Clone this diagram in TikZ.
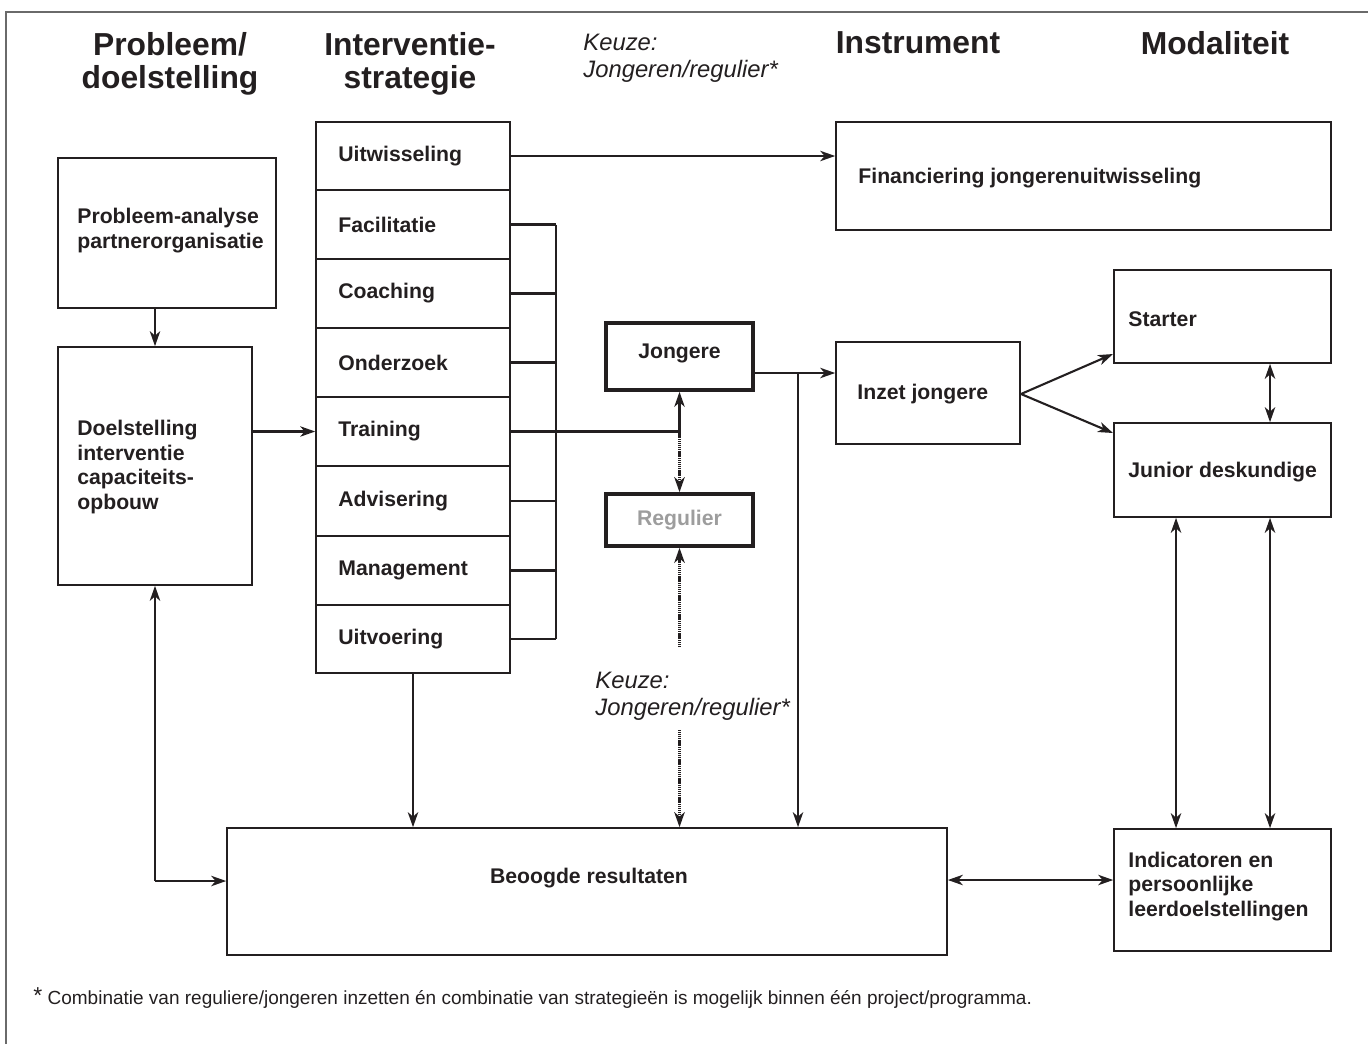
\documentclass[tikz,border=0pt]{standalone}
\usepackage{fontspec}
\setmainfont{Liberation Sans}
\usetikzlibrary{arrows.meta,fit}
\definecolor{ink}{HTML}{231F20}
\definecolor{greytxt}{HTML}{9D9D9D}
\definecolor{framegrey}{HTML}{6A6A6A}
\begin{document}
\begin{tikzpicture}[x=0.5pt,y=-0.5pt,
  box/.style={draw=ink, line width=0.8pt, inner sep=0pt},
  thickbox/.style={draw=ink, line width=1.8pt, inner sep=0pt},
  lbl/.style={anchor=west, inner sep=0pt, font=\fontsize{10.6}{12.3}\selectfont\bfseries, text=ink, align=left},
  clbl/.style={inner sep=0pt, font=\fontsize{10.6}{12.3}\selectfont\bfseries, text=ink, align=center},
  head/.style={font=\fontsize{15.9}{16.5}\selectfont\bfseries, text=ink, align=center, inner sep=0pt},
  keuze/.style={font=\fontsize{11.9}{13.5}\selectfont\itshape, text=ink, align=left, inner sep=0pt, anchor=west},
  tip/.tip={Stealth[length=7.5pt,width=5.2pt,inset=2.2pt]},
  conn/.style={draw=ink, line width=1.05pt},
  arr/.style={conn, -tip},
  darr/.style={conn, tip-tip},
  dots/.style={draw=ink, line width=1.6pt, dash pattern=on 0.6pt off 0.35pt},
]
\useasboundingbox (0,0) rectangle (1368,1044);
\draw[framegrey, line width=0.9pt] (6,1044) -- (6,12) -- (1368,12);

% headings
\node[head] (h1) at (170,63.5) {Probleem/\\doelstelling};
\node[head] (h2) at (410,63.5) {Interventie-\\strategie};
\node[head] (h3) at (918,43) {Instrument};
\node[head] (h4) at (1215,43) {Modaliteit};
\node[keuze] (k0) at (583,58.5) {Keuze:\\Jongeren/regulier*};

% left column
\node[box, fit={(58,158) (276,308)}] (prob) {};
\node[lbl] (probt) at (77,230.5) {Probleem-analyse\\partnerorganisatie};
\node[box, fit={(58,347) (252,585)}] (doel) {};
\node[lbl] (doelt) at (77,467) {Doelstelling\\interventie\\capaciteits-\\opbouw};

% strategy column
\foreach [count=\i] \nm/\ya/\yb in {Uitwisseling/122/190, Facilitatie/190/259, Coaching/259/328, Onderzoek/328/397, Training/397/466, Advisering/466/536, Management/536/605, Uitvoering/605/673}{
  \node[box, fit={(316,\ya) (510,\yb)}] (s\i) {};
  \node[lbl] (st\i) at (338,{(\ya+\yb)/2}) {\nm};
}

% bracket
\coordinate (b2) at (556,224.5);
\coordinate (b8) at (556,639);
\draw[conn] (b2) -- (b8);
\foreach \i in {2,3,4,5,6,7,8}{
  \draw[conn] (s\i.east) -- (s\i.east -| b2);
}

% Jongere / Regulier
\node[thickbox, fit={(606,323) (753,390)}] (jong) {};
\node[clbl] (jongt) at (679.5,353) {Jongere};
\node[thickbox, fit={(606,494) (753,546)}] (reg) {};
\node[clbl, text=greytxt] (regt) at (679.5,520) {Regulier};
\coordinate (junc) at (jong.south |- s5.east);
\draw[conn] (s5.east) -- (junc);
\draw[arr] (junc) -- (jong.south);
\draw[dots, -tip] (junc) -- (reg.north);
\coordinate (k1) at (679.5,647);
\draw[dots, -tip] (k1) -- (reg.south);
\node[keuze] (kb) at (595,696.5) {Keuze:\\Jongeren/regulier*};
\coordinate (k2) at (679.5,730);

% instrument
\node[box, fit={(836,122) (1331,230)}] (fin) {};
\node[lbl] (fint) at (858,178) {Financiering jongerenuitwisseling};
\node[box, fit={(836,342) (1020,444)}] (inz) {};
\node[lbl] (inzt) at (857,394) {Inzet jongere};

% modaliteit
\node[box, fit={(1114,270) (1331,363)}] (sta) {};
\node[lbl] (stat) at (1128,319) {Starter};
\node[box, fit={(1114,423) (1331,517)}] (jun) {};
\node[lbl] (junt) at (1128,472) {Junior deskundige};
\node[box, fit={(1114,829) (1331,951)}] (ind) {};
\node[lbl] (indt) at (1128,886.5) {Indicatoren en\\persoonlijke\\leerdoelstellingen};

% results
\node[box, fit={(227,828) (947,955)}] (beo) {};
\node[clbl] (beot) at (589,878) {Beoogde resultaten};

% connectors
\draw[arr] (prob.south -| doel.north) -- (doel.north);
\draw[arr] (doel.east |- s5.west) -- (s5.west);
\draw[arr] (s1.east) -- (s1.east -| fin.west);
\draw[arr] (s8.south) -- (s8.south |- beo.north);
\coordinate (jo) at (753,373);
\coordinate (jv) at (798,373);
\draw[arr] (jo) -- (jo -| inz.west);
\draw[arr] (jv) -- (jv |- beo.north);
\draw[dots, -tip] (k2) -- (k2 |- beo.north);
\coordinate (ie) at (1021,394);
\draw[arr] (ie) -- (1113,354);
\draw[arr] (ie) -- (1113,433);
\draw[darr] (sta.south -| 1270,0) -- (jun.north -| 1270,0);
\draw[darr] (jun.south -| 1176,0) -- (ind.north -| 1176,0);
\draw[darr] (jun.south -| 1270,0) -- (ind.north -| 1270,0);
\draw[darr] (beo.east |- 0,880) -- (ind.west |- 0,880);
\coordinate (lc) at (155,881);
\draw[conn, tip-] (doel.south) -- (lc);
\draw[arr] (lc) -- (lc -| beo.west);

% footnote
\node[anchor=west, inner sep=0pt, text=ink, font=\fontsize{9.5}{11}\selectfont] (fn) at (33,998) {\raisebox{0.5pt}{\fontsize{11.5}{11}\selectfont*} Combinatie van reguliere/jongeren inzetten én combinatie van strategieën is mogelijk binnen één project/programma.};
\end{tikzpicture}
\end{document}
